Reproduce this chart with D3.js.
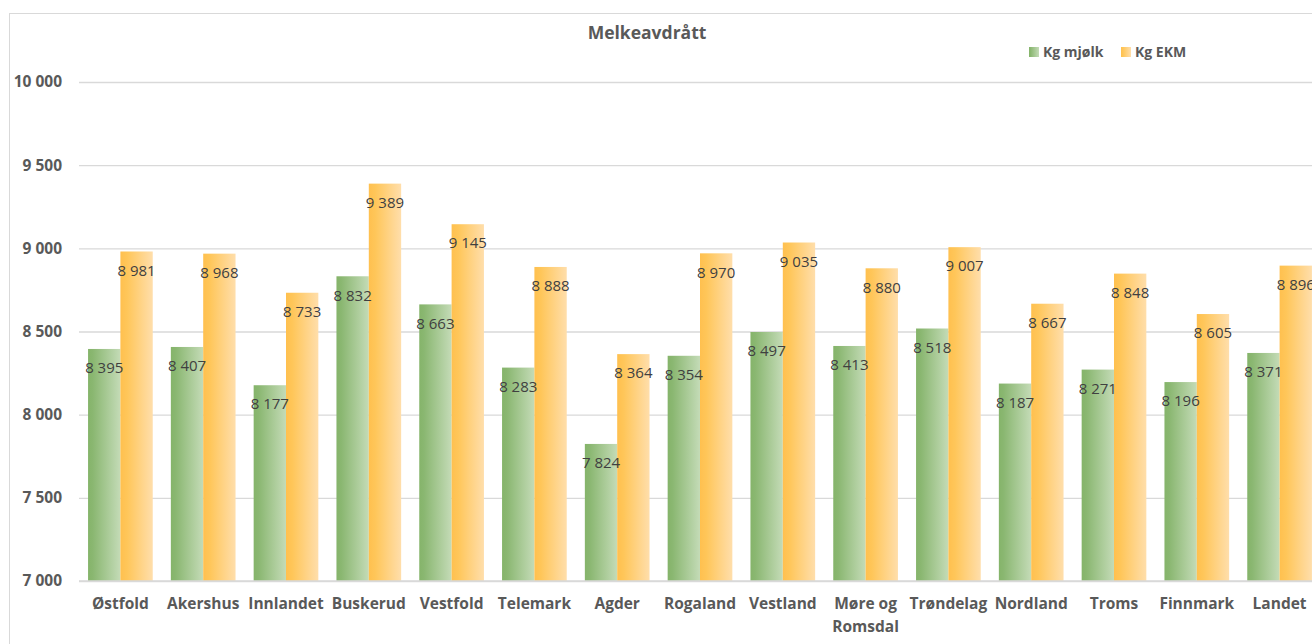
<!DOCTYPE html>
<html><head><meta charset="utf-8">
<script src="https://cdn.jsdelivr.net/npm/d3@7"></script>
<style>
html,body{margin:0;padding:0;background:#fff;overflow:hidden;}
svg{display:block;font-family:"Open Sans",Lato,sans-serif;}
</style></head>
<body>
<svg id="chart" width="1312" height="644"></svg>
<script>
const title = "Melkeavdrått";
const categories = ["Østfold","Akershus","Innlandet","Buskerud","Vestfold","Telemark","Agder","Rogaland","Vestland","Møre og Romsdal","Trøndelag","Nordland","Troms","Finnmark","Landet"];
const seriesNames = ["Kg mjølk","Kg EKM"];
const kgMjolk = [8395,8407,8177,8832,8663,8283,7824,8354,8497,8413,8518,8187,8271,8196,8371];
const kgEKM = [8981,8968,8733,9389,9145,8888,8364,8970,9035,8880,9007,8667,8848,8605,8896];
const yTicks = [7000,7500,8000,8500,9000,9500,10000];

const svg = d3.select("#chart");
const defs = svg.append("defs");
function grad(id, stops){
  const g = defs.append("linearGradient").attr("id",id).attr("x1","0%").attr("x2","100%").attr("y1","0%").attr("y2","0%");
  stops.forEach(s=>g.append("stop").attr("offset",s[0]).attr("stop-color",s[1]));
}
grad("gGreen",[[0,"#85b46a"],[0.15,"#8ab771"],[1,"#c4dbb7"]]);
grad("gOrange",[[0,"#ffc04f"],[0.2,"#ffc659"],[1,"#ffdeab"]]);
const fills = ["url(#gGreen)","url(#gOrange)"];
const fmt = d => d3.format(",")(d).replace(/,/g," ");

// chart border
svg.append("rect").attr("x",9.5).attr("y",13.5).attr("width",1320).attr("height",660)
  .attr("fill","none").attr("stroke","#d9d9d9").attr("stroke-width",1);

const left = 79, bandW = 82.8;
const x = d3.scaleBand().domain(categories).range([left, left + bandW*categories.length]).paddingInner(0).paddingOuter(0);
const y = d3.scaleLinear().domain([7000,10000]).range([581,82]);
const xs = d3.scaleBand().domain(seriesNames).range([0, bandW]).paddingInner(0).paddingOuter(0.28);

// gridlines
const yAxis = d3.axisLeft(y).tickValues(yTicks).tickSize(-(1312-left+20)).tickFormat(fmt);
const ga = svg.append("g").attr("transform",`translate(${left},0)`).call(yAxis);
ga.select(".domain").remove();
ga.selectAll(".tick line").attr("stroke","#d9d9d9").attr("stroke-width",1.3);
ga.selectAll(".tick text").attr("x",-17).attr("fill","#595959").attr("font-weight","bold").attr("font-size","15.5px").attr("font-family","'Open Sans'");

// bars
const series = [kgMjolk, kgEKM];
const barLayer = svg.append("g");
const labelLayer = svg.append("g");
series.forEach((vals, si)=>{
  barLayer.append("g").selectAll("rect").data(vals).join("rect")
    .attr("x",(d,i)=>x(categories[i])+xs(seriesNames[si]))
    .attr("y",d=>y(d))
    .attr("width",xs.bandwidth())
    .attr("height",d=>y(7000)-y(d))
    .attr("fill",fills[si]);
  labelLayer.append("g").selectAll("text").data(vals).join("text")
    .attr("x",(d,i)=>x(categories[i])+xs(seriesNames[si])+xs.bandwidth()/2)
    .attr("y",d=>y(d)+19)
    .attr("dy","0.35em")
    .attr("text-anchor","middle")
    .attr("fill","#404040")
    .attr("font-size","15px")
    .text(fmt);
});

// x axis baseline
svg.append("line").attr("x1",left).attr("x2",1312).attr("y1",y(7000)).attr("y2",y(7000)).attr("stroke","#d9d9d9").attr("stroke-width",1.3);

// category labels with wrap
const xl = svg.append("g").selectAll("text").data(categories).join("text")
  .attr("x",d=>x(d)+bandW/2)
  .attr("y",604)
  .attr("dy","0.35em")
  .attr("text-anchor","middle")
  .attr("fill","#595959").attr("font-weight","bold").attr("font-size","15.5px");
xl.each(function(d){
  const t = d3.select(this);
  t.text(d);
  if (this.getComputedTextLength() > bandW + 6) {
    const words = d.split(" ");
    t.text(null);
    const l1 = words.slice(0,2).join(" "), l2 = words.slice(2).join(" ");
    t.append("tspan").attr("x",x(d)+bandW/2).text(l1);
    t.append("tspan").attr("x",x(d)+bandW/2).attr("dy","23px").text(l2);
  }
});

// title
svg.append("text").attr("x",647).attr("y",33).attr("dy","0.35em").attr("text-anchor","middle")
  .attr("fill","#595959").attr("font-weight","bold").attr("font-size","17.5px").text(title);

// legend
const lg = svg.append("g");
const legX = [1029, 1121];
seriesNames.forEach((s,i)=>{
  lg.append("rect").attr("x",legX[i]).attr("y",47).attr("width",10).attr("height",10).attr("fill",fills[i]);
  lg.append("text").attr("x",legX[i]+14).attr("y",52).attr("dy","0.35em")
    .attr("fill","#595959").attr("font-weight","bold").attr("font-size","14px").text(s);
});
</script>
</body></html>
